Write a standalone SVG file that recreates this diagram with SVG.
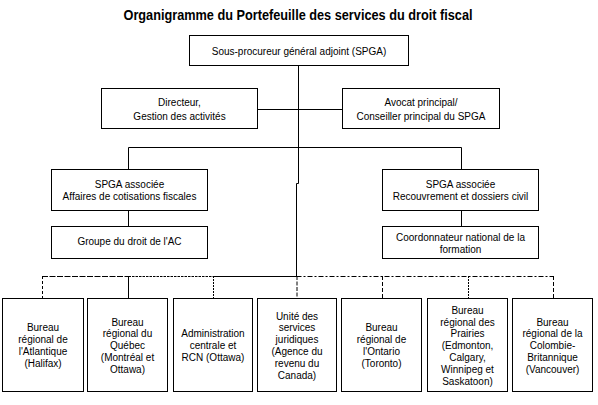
<svg xmlns="http://www.w3.org/2000/svg" width="598" height="405" viewBox="0 0 598 405">
<style>
  .box { fill: #ffffff; stroke: #000000; stroke-width: 1; }
  .t { font-family: "Liberation Sans", Arial, sans-serif; font-size: 10px; fill: #000000; text-anchor: middle; }
  .title { font-family: "Liberation Sans", Arial, sans-serif; font-size: 14px; font-weight: bold; fill: #000000; text-anchor: middle; }
  .ln { fill: none; stroke: #000000; stroke-width: 1; }
</style>
<rect x="0" y="0" width="598" height="405" fill="#ffffff"/>
<text class="title" x="298" y="20" textLength="349" lengthAdjust="spacingAndGlyphs">Organigramme du Portefeuille des services du droit fiscal</text>

<g id="connectors">
  <path class="ln" d="M298.5,66 V183.5 H296.5 V277"/>
  <path class="ln" d="M257.5,109.5 H342.5"/>
  <path class="ln" d="M128.5,169.5 V147.5 H461.5 V169.5"/>
  <path class="ln" d="M128.5,211 V226.5"/>
  <path class="ln" d="M461.5,211 V226.5"/>
  <!-- bottom distribution line -->
  <path class="ln" d="M213.5,276.5 H296.5"/>
  <path class="ln" d="M42,276.5 H128.5" stroke-width="1.6" stroke-dasharray="6 1.5"/>
  <path class="ln" d="M128.5,276.5 H213.5" stroke-width="2" stroke-dasharray="2.5 1"/>
  <path class="ln" d="M296.5,276.5 H554" stroke-width="1.5" stroke-dasharray="5 2 2 2"/>
  <path class="ln" d="M42.5,276 V298.5" stroke-width="1.5" stroke-dasharray="3 2"/>
  <path class="ln" d="M128.5,276 V298.5" stroke-width="2"/>
  <path class="ln" d="M213.5,276 V298.5" stroke-width="1.5" stroke-dasharray="2 1"/>
  <path class="ln" d="M297,276 V298.5" stroke-width="2" stroke-dasharray="4 1.5"/>
  <path class="ln" d="M382.5,276 V298.5" stroke-width="1.5" stroke-dasharray="4 2"/>
  <path class="ln" d="M468.5,276 V298.5" stroke-width="1.5" stroke-dasharray="2 1"/>
  <path class="ln" d="M553.5,276 V298.5" stroke-width="1.5" stroke-dasharray="4 2"/>
</g>

<g id="spga">
  <rect class="box" x="189.5" y="35.5" width="219" height="30"/>
  <text class="t" x="299" y="54.5">Sous-procureur général adjoint (SPGA)</text>
</g>
<g id="directeur">
  <rect class="box" x="101.5" y="88.5" width="156" height="40"/>
  <text class="t"><tspan x="179.5" y="105.5">Directeur,</tspan><tspan x="179.5" y="119.5">Gestion des activités</tspan></text>
</g>
<g id="avocat">
  <rect class="box" x="342.5" y="88.5" width="157" height="40"/>
  <text class="t"><tspan x="421" y="105.5">Avocat principal/</tspan><tspan x="421" y="120">Conseiller principal du SPGA</tspan></text>
</g>
<g id="spga-cotisations">
  <rect class="box" x="51.5" y="169.5" width="156" height="41"/>
  <text class="t"><tspan x="129.5" y="187.5">SPGA associée</tspan><tspan x="129.5" y="199.5">Affaires de cotisations fiscales</tspan></text>
</g>
<g id="spga-recouvrement">
  <rect class="box" x="382.5" y="169.5" width="156" height="41"/>
  <text class="t"><tspan x="460.5" y="187.5">SPGA associée</tspan><tspan x="460.5" y="199.5">Recouvrement et dossiers civil</tspan></text>
</g>
<g id="groupe-ac">
  <rect class="box" x="51.5" y="226.5" width="156" height="32"/>
  <text class="t" x="129.5" y="244.5">Groupe du droit de l'AC</text>
</g>
<g id="coordonnateur">
  <rect class="box" x="382.5" y="226.5" width="156" height="32"/>
  <text class="t"><tspan x="460.5" y="240.5">Coordonnateur national de la</tspan><tspan x="460.5" y="252.5">formation</tspan></text>
</g>

<g id="bureau-atlantique">
  <rect class="box" x="2.5" y="298.5" width="81" height="93"/>
  <text class="t"><tspan x="43" y="331.4">Bureau</tspan><tspan x="43" dy="11.8">régional de</tspan><tspan x="43" dy="11.8">l'Atlantique</tspan><tspan x="43" dy="11.8">(Halifax)</tspan></text>
</g>
<g id="bureau-quebec">
  <rect class="box" x="87.5" y="298.5" width="80" height="93"/>
  <text class="t"><tspan x="127.5" y="325.5">Bureau</tspan><tspan x="127.5" dy="11.8">régional du</tspan><tspan x="127.5" dy="11.8">Québec</tspan><tspan x="127.5" dy="11.8">(Montréal et</tspan><tspan x="127.5" dy="11.8">Ottawa)</tspan></text>
</g>
<g id="administration-centrale">
  <rect class="box" x="173.5" y="298.5" width="79" height="93"/>
  <text class="t"><tspan x="213" y="337.3">Administration</tspan><tspan x="213" dy="11.8">centrale et</tspan><tspan x="213" dy="11.8">RCN (Ottawa)</tspan></text>
</g>
<g id="unite-arc">
  <rect class="box" x="257.5" y="298.5" width="79" height="93"/>
  <text class="t"><tspan x="297" y="319.6">Unité des</tspan><tspan x="297" dy="11.8">services</tspan><tspan x="297" dy="11.8">juridiques</tspan><tspan x="297" dy="11.8">(Agence du</tspan><tspan x="297" dy="11.8">revenu du</tspan><tspan x="297" dy="11.8">Canada)</tspan></text>
</g>
<g id="bureau-ontario">
  <rect class="box" x="341.5" y="298.5" width="80" height="93"/>
  <text class="t"><tspan x="381.5" y="331.4">Bureau</tspan><tspan x="381.5" dy="11.8">régional de</tspan><tspan x="381.5" dy="11.8">l'Ontario</tspan><tspan x="381.5" dy="11.8">(Toronto)</tspan></text>
</g>
<g id="bureau-prairies">
  <rect class="box" x="427.5" y="298.5" width="80" height="93"/>
  <text class="t"><tspan x="467.5" y="313.7">Bureau</tspan><tspan x="467.5" dy="11.8">régional des</tspan><tspan x="467.5" dy="11.8">Prairies</tspan><tspan x="467.5" dy="11.8">(Edmonton,</tspan><tspan x="467.5" dy="11.8">Calgary,</tspan><tspan x="467.5" dy="11.8">Winnipeg et</tspan><tspan x="467.5" dy="11.8">Saskatoon)</tspan></text>
</g>
<g id="bureau-colombie-britannique">
  <rect class="box" x="512.5" y="298.5" width="80" height="93"/>
  <text class="t"><tspan x="552.5" y="325.5">Bureau</tspan><tspan x="552.5" dy="11.8">régional de la</tspan><tspan x="552.5" dy="11.8">Colombie-</tspan><tspan x="552.5" dy="11.8">Britannique</tspan><tspan x="552.5" dy="11.8">(Vancouver)</tspan></text>
</g>
</svg>
